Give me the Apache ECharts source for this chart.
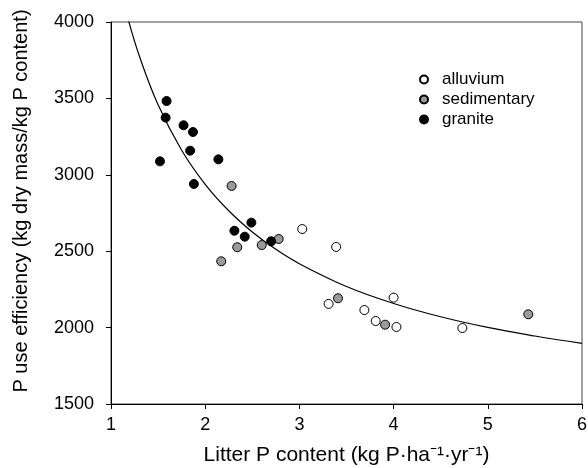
<!DOCTYPE html>
<html>
<head>
<meta charset="utf-8">
<script src="https://cdn.jsdelivr.net/npm/echarts@6/dist/echarts.min.js"></script>
<style>
  html, body { margin: 0; padding: 0; background: #fff; }
  #chart { width: 588px; height: 468px; }
</style>
</head>
<body>
<div id="chart"></div>
<script>
// points: [litter P content, P use efficiency]
const alluvium = [
  [3.03, 2645], [3.39, 2528], [3.31, 2155], [3.69, 2115],
  [3.81, 2043], [4.00, 2196], [4.03, 2004], [4.73, 1997]
]
const sedimentary = [
  [2.28, 2927], [2.17, 2434], [2.34, 2526], [2.60, 2540],
  [2.78, 2580], [3.41, 2192], [3.91, 2019], [5.43, 2087]
]
const granite = [
  [1.59, 3483], [1.58, 3374], [1.77, 3324], [1.87, 3280],
  [1.84, 3158], [1.52, 3088], [2.14, 3101], [1.88, 2940],
  [2.49, 2687], [2.31, 2634], [2.42, 2595], [2.70, 2565]
]
// fitted curve, sampled along the drawn line
const curveX = [1.17, 1.3, 1.5, 1.75, 2, 2.25, 2.5, 2.75, 3, 3.5, 4, 4.5, 5, 5.5, 6]
const curveY = [4045, 3779, 3458, 3161, 2938, 2765, 2626, 2512, 2418, 2269, 2158, 2071, 2001, 1945, 1897]

const font = 'Liberation Sans, Arial, sans-serif'

const chart = echarts.init(document.getElementById('chart'))

chart.setOption({
  animation: false,
  grid: {
    left: 111, right: 6, top: 22, bottom: 64,
    outerBoundsMode: 'none',
    show: true, borderColor: '#444', borderWidth: 1
  },
  legend: {
    orient: 'vertical',
    left: 414, top: 66,
    itemWidth: 8, itemHeight: 8, itemGap: 3,
    textStyle: { fontFamily: font, fontSize: 17, color: '#000', padding: [0, 0, 0, 9] },
    data: ['alluvium', 'sedimentary', 'granite']
  },
  xAxis: {
    type: 'value',
    min: 1, max: 6, interval: 1,
    name: 'Litter P content (kg P·ha⁻¹·yr⁻¹)',
    nameLocation: 'middle',
    nameGap: 41,
    nameTextStyle: { fontFamily: font, fontSize: 21, color: '#000' },
    axisLine: { lineStyle: { color: '#000', width: 1 } },
    axisTick: { length: 5, lineStyle: { color: '#000' } },
    axisLabel: { fontFamily: font, fontSize: 18, color: '#000', margin: 12 },
    splitLine: { show: false }
  },
  yAxis: {
    type: 'value',
    min: 1500, max: 4000, interval: 500,
    name: 'P use efficiency (kg dry mass/kg P content)',
    nameLocation: 'middle',
    nameGap: 80,
    nameTextStyle: { fontFamily: font, fontSize: 20, color: '#000', padding: [0, 0, 0, 24] },
    axisLine: { show: true, lineStyle: { color: '#000', width: 1 } },
    axisTick: { show: true, length: 5, lineStyle: { color: '#000' } },
    axisLabel: {
      fontFamily: font, fontSize: 18, color: '#000', margin: 17,
      formatter: (v) => String(v)
    },
    splitLine: { show: false }
  },
  series: [
    {
      name: 'fit',
      type: 'line',
      data: curveX.map((x, i) => [x, curveY[i]]),
      smooth: 0.4,
      showSymbol: false,
      clip: true,
      lineStyle: { color: '#000', width: 1.2 },
      silent: true,
      z: 1
    },
    {
      name: 'alluvium',
      type: 'scatter',
      data: alluvium,
      symbol: 'circle',
      symbolSize: 9,
      itemStyle: { color: '#fff', borderColor: '#000', borderWidth: 1, opacity: 1 },
      z: 3
    },
    {
      name: 'sedimentary',
      type: 'scatter',
      data: sedimentary,
      symbol: 'circle',
      symbolSize: 9,
      itemStyle: { color: '#9a9a9a', borderColor: '#000', borderWidth: 1, opacity: 1 },
      z: 3
    },
    {
      name: 'granite',
      type: 'scatter',
      data: granite,
      symbol: 'circle',
      symbolSize: 9,
      itemStyle: { color: '#000', borderColor: '#000', borderWidth: 1, opacity: 1 },
      z: 3
    }
  ]
})
</script>
</body>
</html>
